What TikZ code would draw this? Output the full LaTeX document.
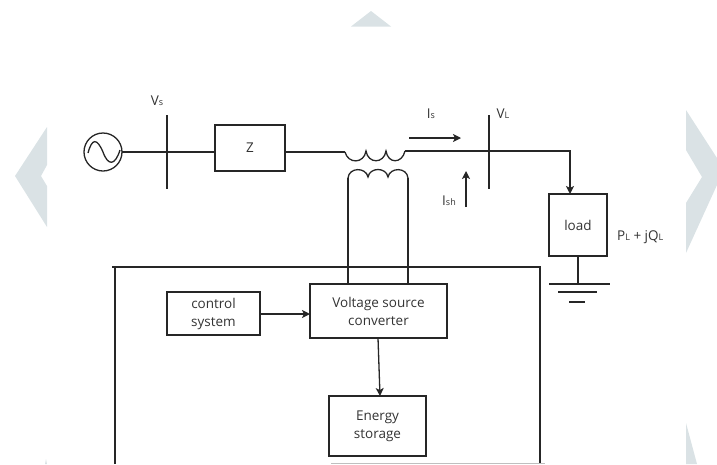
\documentclass[tikz,border=0pt]{standalone}
\usepackage{fontspec}
\usetikzlibrary{arrows.meta}
\setmainfont{Open Sans}
\definecolor{chevgray}{HTML}{DAE2E5}
\definecolor{txtgray}{HTML}{333333}
\tikzset{
wire/.style={draw, line width=1.3pt, color=black!85},
arw/.style={wire, -{Stealth[length=8pt,width=8pt,inset=2pt]}},
box/.style={wire, rectangle, inner sep=0pt, align=center, text=txtgray, font=\fontsize{13.5}{18}\selectfont},
lbl/.style={inner sep=0pt, text=txtgray, font=\fontsize{13.5}{15}\selectfont},
chev/.style={fill=chevgray, draw=none},
}
\newcommand{\sub}[1]{{\fontsize{9}{10}\selectfont #1}}
\begin{document}
\begin{tikzpicture}[x=1pt,y=-1pt]
\useasboundingbox (0,0) rectangle (717,464);
\fill[chev] (351,26.5) -- (371,11) -- (391,26.5) -- cycle;
\fill[chev] (47,127) -- (15,176) -- (47,227) -- (47,186) -- (41,176) -- (47,165) -- cycle;
\fill[chev] (686,110) -- (717,158) -- (717,185) -- (686,253) -- (686,203) -- (702,177) -- (686,150) -- cycle;
\fill[chev] (686,423) -- (697,464) -- (686,464) -- cycle;
\fill[chev] (46,459) -- (47,464) -- (45,464) -- cycle;
\node[wire, circle, minimum size=38pt, inner sep=0pt] (src) at (103,152){};
\node[box, minimum width=70pt, minimum height=46pt] (zbox) at (250,148){Z};
\node[box, minimum width=58pt, minimum height=62pt] (load) at (578,225){load};
\node[box, minimum width=137pt, minimum height=54pt] (vsc) at (378.5,311){Voltage source\\converter};
\node[box, minimum width=93pt, minimum height=43pt] (ctrl) at (213.5,313.5){control\\system};
\node[box, minimum width=97pt, minimum height=60pt] (energy) at (377.5,426){Energy\\storage};
\draw[wire] (88,153) .. controls (92,138) and (97,138) .. (103,152) .. controls (108,166) and (115,166) .. (120,150);
\coordinate (vsT) at (167,115);
\coordinate (vsB) at (167,189);
\coordinate (vlT) at (489,115);
\coordinate (vlB) at (489,189);
\draw[wire] (vsT) -- (vsB);
\draw[wire] (vlT) -- (vlB);
\coordinate (srcOut) at (122,152);
\coordinate (zIn) at (215,152);
\coordinate (zOut) at (285,152);
\coordinate (priL) at (345,152);
\coordinate (priR) at (405,151);
\coordinate (secL) at (348,178);
\coordinate (secR) at (408,178);
\draw[wire] (srcOut) -- (zIn);
\draw[wire] (zOut) -- (priL);
\draw[wire] (priL) .. controls (348,164) and (364,164) .. (366,151) .. controls (368,164) and (384,164) .. (386,151) .. controls (388,164) and (402,164) .. (priR);
\draw[wire] (secL) .. controls (349,167) and (366,167) .. (368,177) .. controls (370,167) and (386,167) .. (388,177) .. controls (390,167) and (407,167) .. (secR);
\coordinate (vscL) at (348,284);
\coordinate (vscR) at (408,284);
\draw[wire] (secL) -- (vscL);
\draw[wire] (secR) -- (vscR);
\coordinate (loadIn) at (570,194);
\draw[arw] (priR) -| (loadIn);
\coordinate (gnd) at (578,284);
\coordinate (gndL) at (549,284);
\coordinate (gndR) at (610,284);
\draw[wire] (load.south) -- (gnd);
\draw[wire] (gndL) -- (gndR);
\coordinate (gnd2L) at (558,292);
\coordinate (gnd2R) at (597,292);
\draw[wire] (gnd2L) -- (gnd2R);
\coordinate (gnd3L) at (569,302);
\coordinate (gnd3R) at (585,302);
\draw[wire] (gnd3L) -- (gnd3R);
\coordinate (isA) at (409,138);
\coordinate (isB) at (461,138);
\draw[arw] (isA) -- (isB);
\coordinate (ishA) at (466,207);
\coordinate (ishB) at (466,171);
\draw[arw] (ishA) -- (ishB);
\coordinate (ctrlOut) at (260,314);
\coordinate (vscIn) at (310,314);
\draw[arw] (ctrlOut) -- (vscIn);
\coordinate (vscOut) at (378,338);
\coordinate (energyIn) at (380,396);
\draw[arw] (vscOut) -- (energyIn);
\coordinate (encBL) at (115,464);
\coordinate (encTL) at (112,267);
\coordinate (encTLv) at (115,267);
\coordinate (encTR) at (540,267);
\coordinate (encBR) at (540,464);
\draw[wire] (encBL) -- (encTLv);
\draw[wire] (encTL) -- (encTR) -- (encBR);
\coordinate (encFaintL) at (331,463);
\coordinate (encFaintR) at (545,463);
\draw[black!25, line width=1pt] (encFaintL) -- (encFaintR);
\node[lbl] (vsLbl) at (157,101){V\sub{s}};
\node[lbl] (isLbl) at (431,114){I\sub{s}};
\node[lbl] (vlLbl) at (503,114){V\sub{L}};
\node[lbl] (ishLbl) at (449,201){I\sub{sh}};
\node[lbl, anchor=west] (pqLbl) at (617,237){P\sub{L} + jQ\sub{L}};
\end{tikzpicture}
\end{document}
